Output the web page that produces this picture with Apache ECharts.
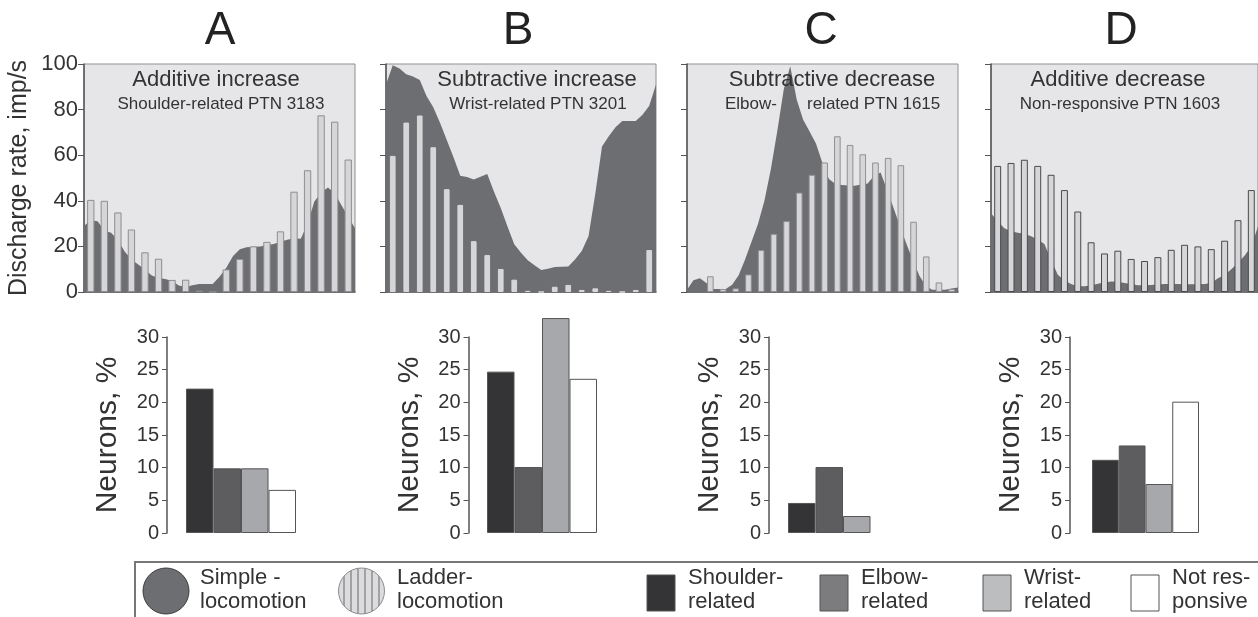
<!DOCTYPE html>
<html><head><meta charset="utf-8">
<script src="https://cdn.jsdelivr.net/npm/echarts@6/dist/echarts.min.js"></script>
<style>html,body{margin:0;padding:0;background:#fff}#c{width:1258px;height:617px}</style>
</head><body><div id="c"></div>
<script>
// ---------- DATA ----------
const panelLetters = ['A', 'B', 'C', 'D'];
const panelTitles = ['Additive increase', 'Subtractive increase', 'Subtractive decrease', 'Additive decrease'];
const panelSubtitles = ['Shoulder-related PTN 3183', 'Wrist-related PTN 3201', 'Elbow-|related PTN 1615', 'Non-responsive PTN 1603'];
const rateTicks = [0, 20, 40, 60, 80, 100];
const areaStep = 0.5; // bins, sample spacing of the simple-locomotion profile

// Simple locomotion (dark area), sampled every half bin
const simpleA = [29, 31.5, 31, 27, 26, 22.8, 17.8, 14.2, 12.1, 9.9, 7.2, 6.1, 5.7, 4.8, 2.8, 2.2, 3, 3.5, 3.5, 3.5, 6.7, 10.6, 15.8, 18.8, 19.6, 19.8, 20, 20.6, 21, 22, 22.9, 23.6, 23.4, 30, 39.7, 43.5, 45.8, 43.4, 38, 33, 28];
const simpleB = [91, 99.5, 98, 95.5, 94.5, 93, 86, 81, 74.2, 66.7, 59.1, 51, 50.4, 49.3, 50.5, 51.8, 44, 36.8, 28.7, 20.9, 17.2, 13.9, 11.7, 9.6, 10.2, 11, 11.1, 11.2, 14.2, 18, 24.5, 43, 63.8, 68.3, 72.3, 75, 75, 75, 77.7, 81.7, 91];
const simpleC = [1, 5.2, 6, 4, 1.3, 1.3, 1.3, 3.2, 7.3, 14.2, 22, 29.8, 40, 53.9, 70.7, 88.9, 99, 84.4, 75.5, 70.4, 65, 56.5, 49.6, 47.4, 46.9, 46.7, 46.6, 47.2, 47.6, 51, 52.4, 44.8, 37, 28.9, 21.2, 14, 7.2, 2.6, 1, 1, 1, 1.5, 2];
const simpleD = [34.5, 31, 28, 26.6, 26, 25.5, 24.5, 23, 21, 14, 7.6, 5, 3.5, 2.5, 2.5, 2.8, 3.6, 4.2, 4.6, 4.5, 4, 3.5, 3, 3, 3.1, 3.3, 3.5, 3.5, 3.5, 3.4, 3.4, 3.4, 3.5, 4, 6, 7.5, 10, 12.7, 16, 20, 28.8];

// Ladder locomotion (bars), one per bin
const ladderA = [40.4, 40, 34.9, 27.4, 17.4, 14.6, 5.3, 5.4, 0.6, 0, 9.9, 14.5, 20, 22, 26.6, 44, 53.4, 77.5, 74.7, 58.1];
const ladderB = [59.7, 74.3, 77.4, 63.5, 45.1, 38.2, 22.3, 16.2, 10.1, 5.4, 0.5, 0, 2.3, 3.1, 0.9, 1.6, 0.5, 0, 0.9, 18.4];
const ladderC = [6.9, 1.3, 1.6, 7.7, 18.4, 25.5, 31.1, 43.6, 51.4, 56.8, 68.3, 64.5, 60.4, 56.8, 58.8, 55.6, 30.8, 15.6, 4.2, 1.3];
const ladderD = [55.3, 56.6, 58, 55.3, 51.4, 44.7, 35.3, 21.8, 16.9, 18.1, 14.5, 13.6, 15.3, 18.5, 20.7, 20, 18.8, 22.5, 31.5, 44.7];

// Percent of neurons per group
const neuronGroups = ['Shoulder-related', 'Elbow-related', 'Wrist-related', 'Not responsive'];
const neuronsA = [22.1, 9.9, 9.9, 6.6];
const neuronsB = [24.7, 10.1, 32.9, 23.6];
const neuronsC = [4.6, 10.1, 2.6, 0];
const neuronsD = [11.2, 13.4, 7.5, 20.1];
const neuronTicks = [0, 5, 10, 15, 20, 25, 30];

// ---------- STYLE / LAYOUT ----------
const FONT = '"Liberation Sans", Arial, sans-serif';
const TXT = '#333';
const bgGray = '#e6e6e8';
const darkArea = '#6d6e71';
const groupColors = ['#343436', '#5d5d60', '#a7a8ab', '#ffffff'];
const legendColors = ['#343436', '#7c7c7e', '#bcbdbf', '#ffffff'];

const simple = [simpleA, simpleB, simpleC, simpleD];
const ladder = [ladderA, ladderB, ladderC, ladderD];
const neurons = [neuronsA, neuronsB, neuronsC, neuronsD];

const topAreaGrid = [{left: 84, width: 271}, {left: 386, width: 270}, {left: 687, width: 271}, {left: 991, width: 268}];
const topBarGrid  = [{left: 84, width: 271}, {left: 386, width: 270}, {left: 704, width: 254}, {left: 991, width: 268}];
const barWidths = ['54%', '42%', '52%', '52%'];
const barBorders = ['#8e8e90', '#d8d8da', '#909092', '#4a4a4c'];
const botGrid = [{left: 186, width: 110, off: 19}, {left: 487, width: 110, off: 18.5}, {left: 788, width: 110, off: 19}, {left: 1092, width: 107, off: 22}];
const TOP = 64, TOPH = 228, BOT = 337, BOTH = 196;

const grids = [], xAxes = [], yAxes = [], series = [];

for (let p = 0; p < 4; p++) {
  const gA = grids.length;
  grids.push({left: topAreaGrid[p].left, top: TOP, width: topAreaGrid[p].width, height: TOPH,
    show: true, backgroundColor: bgGray, borderColor: '#909092', borderWidth: 1});
  const nBins = (simple[p].length - 1) * areaStep;
  xAxes.push({gridIndex: gA, type: 'value', min: 0, max: nBins, axisLabel: {show: false}, axisTick: {show: false},
    splitLine: {show: false}, axisLine: {show: true, onZero: false, lineStyle: {color: '#555', width: 1.5}}});
  yAxes.push({gridIndex: gA, type: 'value', min: rateTicks[0], max: rateTicks[rateTicks.length - 1], interval: rateTicks[1] - rateTicks[0],
    axisLine: {show: true, lineStyle: {color: '#555', width: 1.5}},
    axisTick: {show: true, length: 6, lineStyle: {color: '#555'}},
    axisLabel: {show: p === 0, fontSize: 22, color: TXT, fontFamily: FONT, margin: 6},
    splitLine: {show: false},
    name: p === 0 ? 'Discharge rate, imp/s' : '', nameLocation: 'middle', nameGap: 52,
    nameTextStyle: {fontSize: 25, color: TXT, fontFamily: FONT}});
  series.push({type: 'line', xAxisIndex: xAxes.length - 1, yAxisIndex: yAxes.length - 1,
    data: simple[p].map((v, i) => [i * areaStep, v]), symbol: 'none', smooth: false,
    lineStyle: {width: 0}, areaStyle: {color: darkArea, opacity: 1}, z: 2, silent: true});

  let gB = gA;
  if (topBarGrid[p].left !== topAreaGrid[p].left) {
    gB = grids.length;
    grids.push({left: topBarGrid[p].left, top: TOP, width: topBarGrid[p].width, height: TOPH, show: false});
    yAxes.push({gridIndex: gB, type: 'value', min: 0, max: 100, show: false});
  }
  xAxes.push({gridIndex: gB, type: 'category', data: ladder[p].map((v, i) => i + 1), show: false});
  series.push({type: 'bar', xAxisIndex: xAxes.length - 1, yAxisIndex: yAxes.length - 1,
    data: ladder[p], barWidth: barWidths[p],
    itemStyle: {color: '#d6d6d8', borderColor: barBorders[p], borderWidth: 1}, z: 3, silent: true});

  const gN = grids.length;
  grids.push({left: botGrid[p].left, top: BOT, width: botGrid[p].width, height: BOTH, show: false});
  xAxes.push({gridIndex: gN, type: 'category', data: neuronGroups, show: false});
  yAxes.push({gridIndex: gN, type: 'value', min: neuronTicks[0], max: neuronTicks[neuronTicks.length - 1], interval: neuronTicks[1] - neuronTicks[0], offset: botGrid[p].off,
    axisLine: {show: true, lineStyle: {color: '#555', width: 1.5}},
    axisTick: {show: true, length: 5, lineStyle: {color: '#555'}},
    axisLabel: {fontSize: 20, color: TXT, fontFamily: FONT, margin: 8},
    splitLine: {show: false},
    name: 'Neurons, %', nameLocation: 'middle', nameGap: 44,
    nameTextStyle: {fontSize: 30, color: TXT, fontFamily: FONT}});
  series.push({type: 'bar', xAxisIndex: xAxes.length - 1, yAxisIndex: yAxes.length - 1,
    barCategoryGap: '0%', clip: false,
    data: neurons[p].map((v, i) => ({value: v, itemStyle: {color: groupColors[i], borderWidth: v > 0 ? 1 : 0}})),
    itemStyle: {borderColor: '#555', borderWidth: 1}, z: 3, silent: true});
}

// ---------- TEXT / LEGEND GRAPHICS ----------
const letterX = [220, 518, 821, 1121];
const titleX = [216, 537, 832, 1118];
const subX = [221, 538, 0, 1120];
const graphics = [];
panelLetters.forEach((L, i) => graphics.push({type: 'text', x: letterX[i], y: 31, z: 10,
  style: {text: L, font: '46px ' + FONT, fill: '#222', textAlign: 'center', textVerticalAlign: 'middle'}}));
panelTitles.forEach((t, i) => graphics.push({type: 'text', x: titleX[i], y: 80, z: 10,
  style: {text: t, font: '22px ' + FONT, fill: TXT, textAlign: 'center', textVerticalAlign: 'middle'}}));
panelSubtitles.forEach((t, i) => {
  if (t.indexOf('|') >= 0) {
    const [a, b] = t.split('|');
    graphics.push({type: 'text', x: 725, y: 104, z: 10, style: {text: a, font: '17px ' + FONT, fill: TXT, textAlign: 'left', textVerticalAlign: 'middle'}});
    graphics.push({type: 'text', x: 807, y: 104, z: 10, style: {text: b, font: '17px ' + FONT, fill: TXT, textAlign: 'left', textVerticalAlign: 'middle'}});
  } else {
    graphics.push({type: 'text', x: subX[i], y: 104, z: 10,
      style: {text: t, font: '17px ' + FONT, fill: TXT, textAlign: 'center', textVerticalAlign: 'middle'}});
  }
});

const pc = document.createElement('canvas');
pc.width = 7; pc.height = 10;
const pctx = pc.getContext('2d');
pctx.fillStyle = '#dcdcde'; pctx.fillRect(0, 0, 7, 10);
pctx.fillStyle = '#a2a2a4'; pctx.fillRect(0, 0, 2, 10);

graphics.push({type: 'rect', shape: {x: 135, y: 562, width: 1135, height: 70}, z: 1,
  style: {fill: '#fff', stroke: '#777', lineWidth: 2}});
graphics.push({type: 'circle', shape: {cx: 166, cy: 591, r: 23}, z: 5, style: {fill: darkArea, stroke: '#3c3c3e', lineWidth: 1}});
graphics.push({type: 'circle', shape: {cx: 361.5, cy: 591, r: 23}, z: 5, style: {fill: {image: pc, repeat: 'repeat'}, stroke: '#8a8a8c', lineWidth: 1}});
const legendTexts = [['Simple -\nlocomotion', 200], ['Ladder-\nlocomotion', 397],
  ['Shoulder-\nrelated', 688], ['Elbow-\nrelated', 861], ['Wrist-\nrelated', 1024], ['Not res-\nponsive', 1172]];
legendTexts.forEach(([t, x]) => graphics.push({type: 'text', x: x, y: 566, z: 5,
  style: {text: t, font: '22px ' + FONT, fill: TXT, lineHeight: 24, textAlign: 'left', textVerticalAlign: 'top'}}));
const sqX = [647, 820, 983, 1131];
sqX.forEach((x, i) => graphics.push({type: 'rect', shape: {x: x, y: 575, width: 28, height: 36}, z: 5,
  style: {fill: legendColors[i], stroke: '#555', lineWidth: 1}}));

const chart = echarts.init(document.getElementById('c'), null, {renderer: 'canvas'});
chart.setOption({
  animation: false,
  backgroundColor: '#fff',
  textStyle: {fontFamily: FONT},
  grid: grids, xAxis: xAxes, yAxis: yAxes, series: series, graphic: graphics
});
</script></body></html>
